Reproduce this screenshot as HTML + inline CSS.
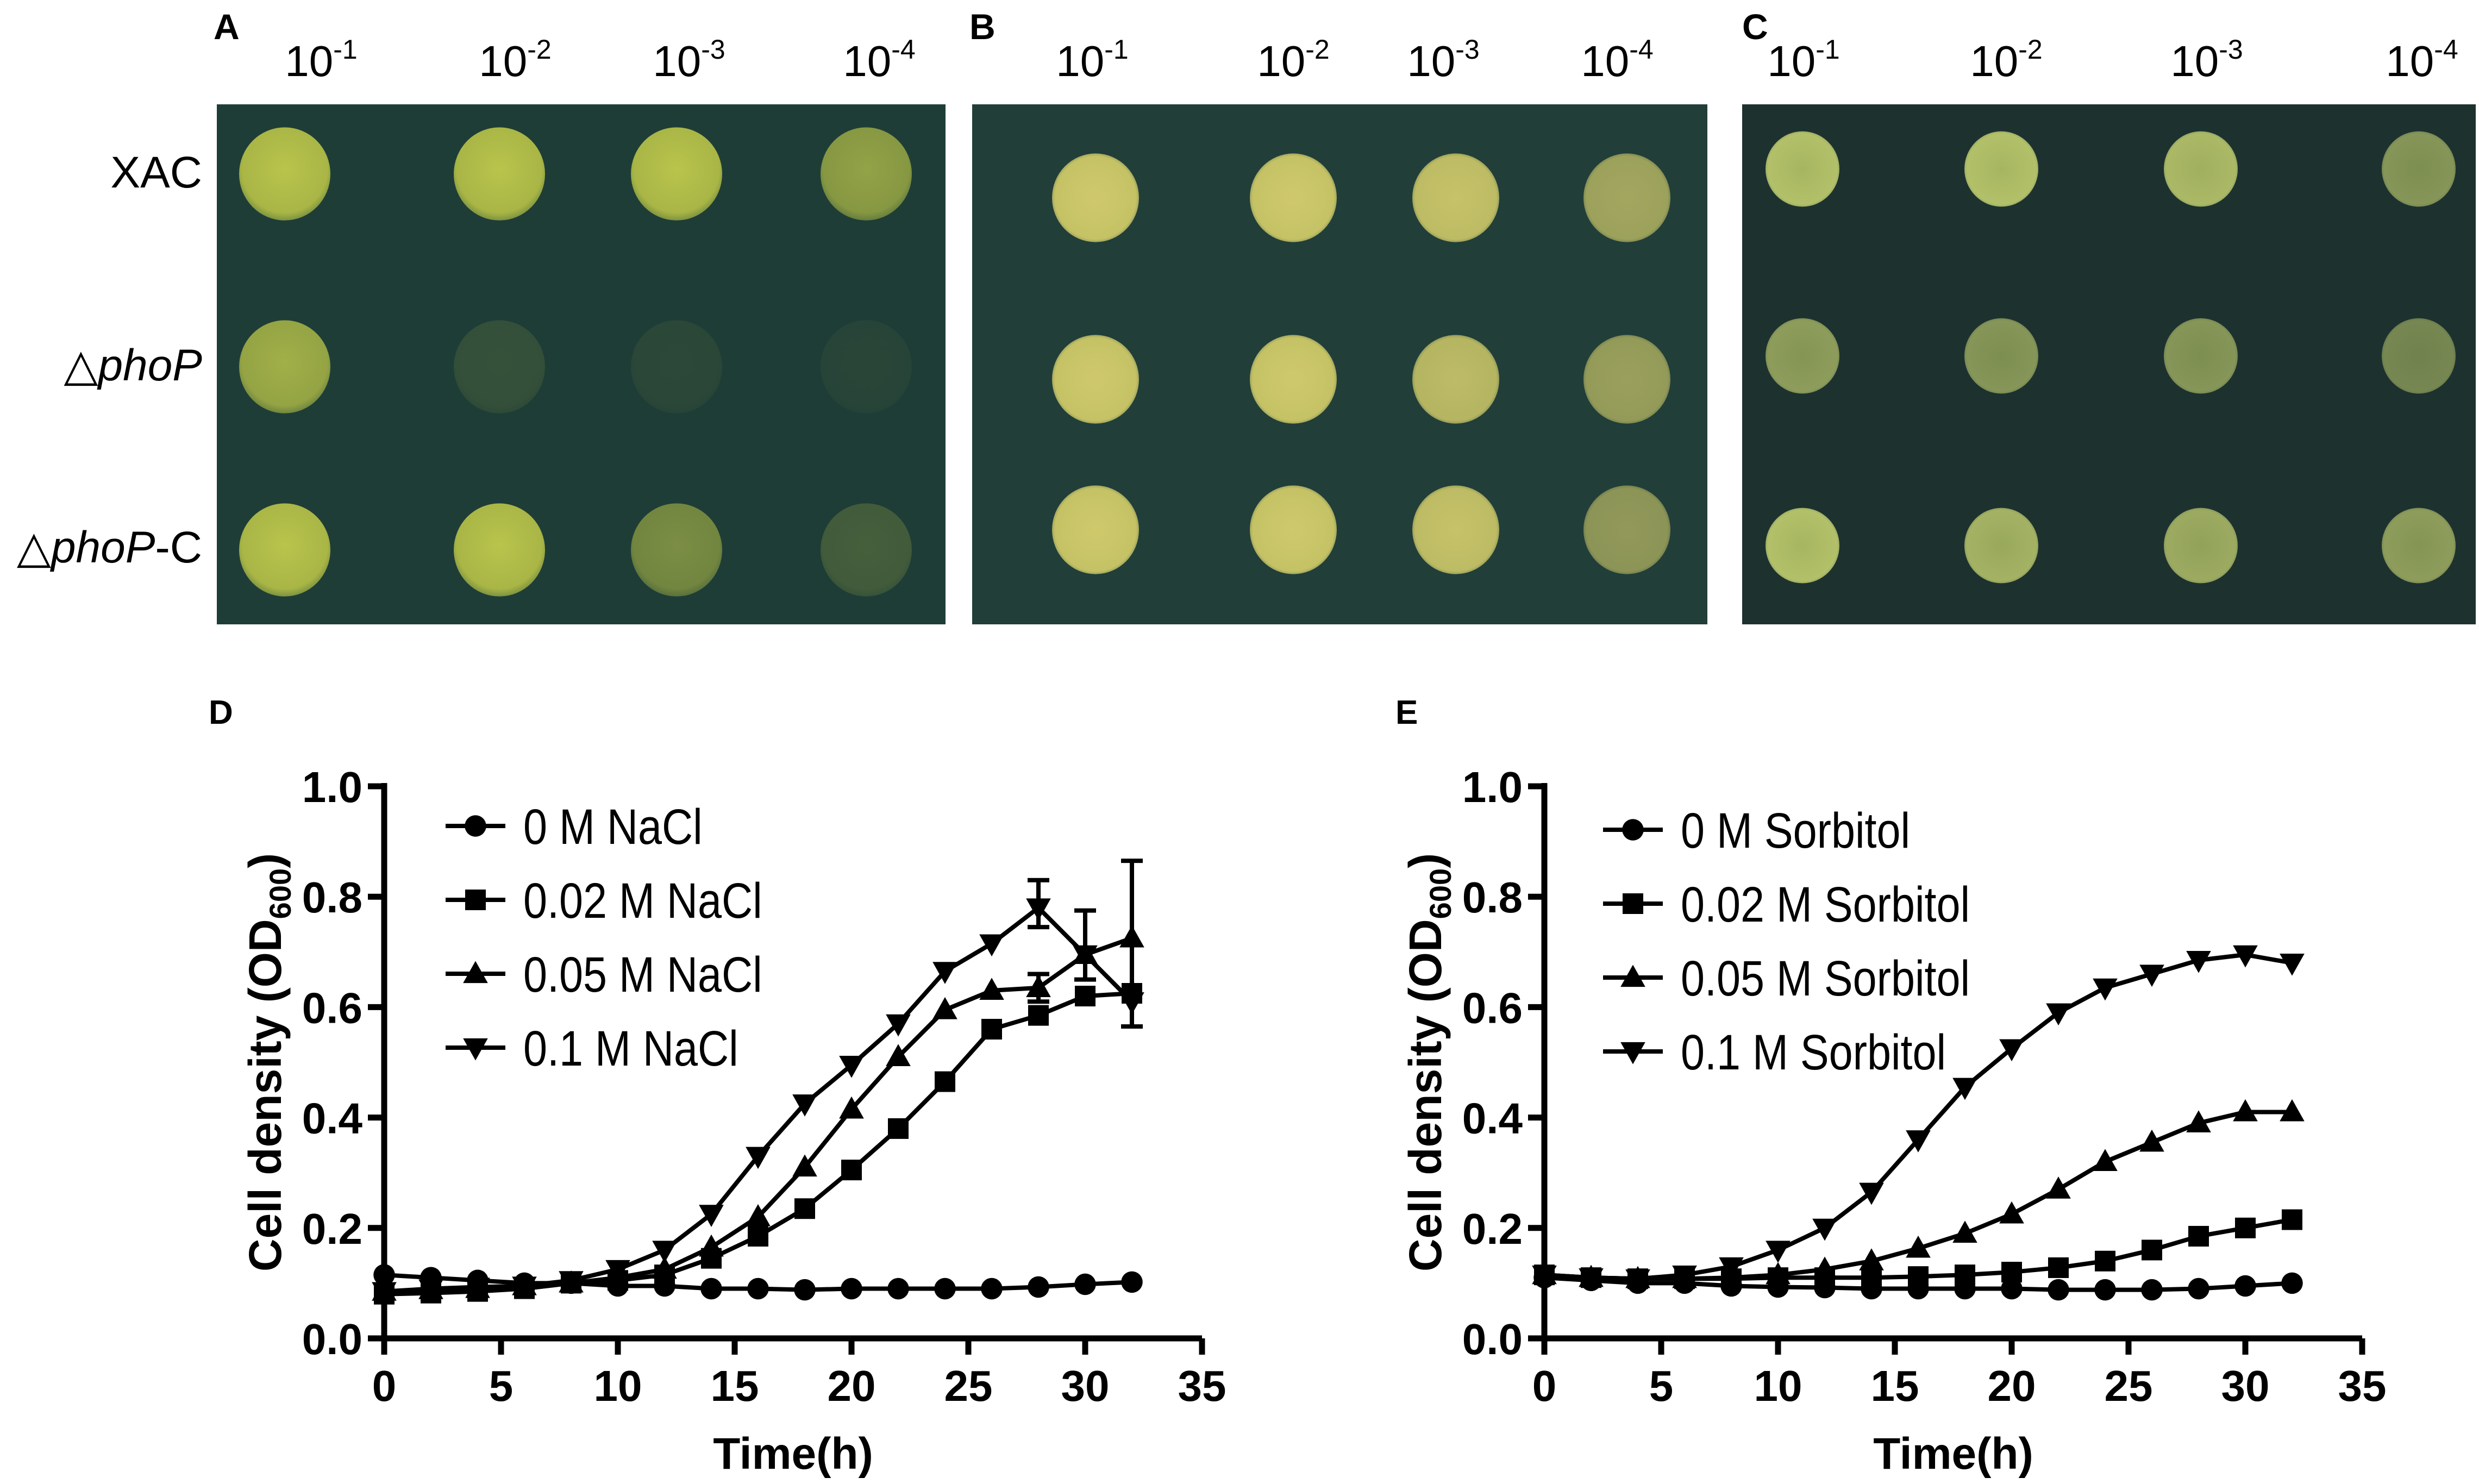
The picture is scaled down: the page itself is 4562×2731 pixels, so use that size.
<!DOCTYPE html>
<html><head><meta charset="utf-8"><style>
html,body{margin:0;padding:0;background:#fff}
svg{display:block}
text{font-family:"Liberation Sans",Arial,sans-serif}
</style></head><body>
<svg id="fig" width="4562" height="2731" viewBox="0 0 4562 2731" xmlns="http://www.w3.org/2000/svg">
<defs>
<radialGradient id="gA" cx="50%" cy="45%" r="55%"><stop offset="0" stop-color="#b9c44c"/><stop offset="0.85" stop-color="#a9b646"/><stop offset="1" stop-color="#7f9340"/></radialGradient>
<radialGradient id="gB" cx="50%" cy="50%" r="55%"><stop offset="0" stop-color="#cfc96c"/><stop offset="0.85" stop-color="#c5c266"/><stop offset="1" stop-color="#6f7d4f"/></radialGradient>
<radialGradient id="gC" cx="50%" cy="50%" r="55%"><stop offset="0" stop-color="#a6b660"/><stop offset="0.85" stop-color="#b3c06a"/><stop offset="1" stop-color="#7d9157"/></radialGradient>
</defs>
<g id="photos"></g>
<g id="chartD"></g>
<g id="chartE"></g>
</svg>
<script>
const NS="http://www.w3.org/2000/svg";
// ---- Chart data ----
const times=[0,2,4,6,8,10,12,14,16,18,20,22,24,26,28,30,32];
const xTicks=[0,5,10,15,20,25,30,35];
const yTicks=[0.0,0.2,0.4,0.6,0.8,1.0];
const yTickLabels=["0.0","0.2","0.4","0.6","0.8","1.0"];
const nacl0=[0.115,0.11,0.105,0.1,0.1,0.095,0.095,0.09,0.09,0.088,0.09,0.09,0.09,0.09,0.093,0.098,0.102];
const nacl002=[0.08,0.082,0.085,0.09,0.1,0.105,0.115,0.145,0.185,0.235,0.305,0.38,0.465,0.56,0.585,0.62,0.625];
const nacl005=[0.085,0.088,0.09,0.095,0.1,0.11,0.125,0.165,0.22,0.31,0.415,0.51,0.595,0.63,0.635,0.695,0.725];
const nacl01=[0.085,0.09,0.093,0.095,0.105,0.125,0.16,0.225,0.33,0.425,0.495,0.57,0.665,0.715,0.78,0.695,0.61];
const naclErrT=[28,28,30,32];
const naclErrLo=[0.745,0.61,0.65,0.565];
const naclErrHi=[0.83,0.66,0.775,0.865];
const sorb0=[0.11,0.105,0.1,0.1,0.095,0.093,0.092,0.09,0.09,0.09,0.09,0.088,0.088,0.088,0.09,0.095,0.1];
const sorb002=[0.115,0.11,0.108,0.108,0.108,0.11,0.11,0.11,0.112,0.115,0.12,0.128,0.14,0.16,0.185,0.2,0.215];
const sorb005=[0.115,0.11,0.108,0.108,0.11,0.115,0.125,0.14,0.163,0.19,0.225,0.27,0.32,0.355,0.39,0.41,0.41];
const sorb01=[0.115,0.11,0.108,0.115,0.13,0.16,0.2,0.265,0.36,0.455,0.525,0.59,0.635,0.66,0.685,0.695,0.68];
const naclLabels=["0 M NaCl","0.02 M NaCl","0.05 M NaCl","0.1 M NaCl"];
const sorbLabels=["0 M Sorbitol","0.02 M Sorbitol","0.05 M Sorbitol","0.1 M Sorbitol"];
const markerTypes=["circle","square","up","down"];

function el(tag,attrs,parent){const e=document.createElementNS(NS,tag);for(const k in attrs)e.setAttribute(k,attrs[k]);if(parent)parent.appendChild(e);return e;}

function marker(g,type,cx,cy,s){
  let m;
  if(type==="circle") m=el("circle",{cx:cx,cy:cy,r:s*0.52,fill:"#000"},g);
  else if(type==="square") m=el("rect",{x:cx-s*0.5,y:cy-s*0.5,width:s,height:s,fill:"#000"},g);
  else if(type==="up") m=el("polygon",{points:`${cx},${cy-s*0.62} ${cx-s*0.6},${cy+s*0.45} ${cx+s*0.6},${cy+s*0.45}`,fill:"#000"},g);
  else m=el("polygon",{points:`${cx},${cy+s*0.62} ${cx-s*0.6},${cy-s*0.45} ${cx+s*0.6},${cy-s*0.45}`,fill:"#000"},g);
  return m;
}

function chart(gid,x0,x35,y0,y1,series,labels,legX,legY,legStep,errT,errLo,errHi,letter,letterX){
  const g=document.getElementById(gid);
  const X=t=>x0+(x35-x0)*t/35, Y=v=>y0-(y0-y1)*v;
  const lt=el("text",{x:letterX,y:1332,"font-size":62,"font-weight":"bold"},g);lt.textContent=letter;
  
  
  const ax=el("path",{d:`M${x0} ${y1-6}V${y0}H${X(35)}`,stroke:"#000","stroke-width":11,fill:"none"},g);
  
  
  yTicks.forEach((v,i)=>{
    el("line",{x1:x0-30,x2:x0,y1:Y(v),y2:Y(v),stroke:"#000","stroke-width":11},g);
    const t=el("text",{x:x0-40,y:Y(v)+29,"font-size":80,"font-weight":"bold","text-anchor":"end"},g);
    t.textContent=yTickLabels[i];
    
    
  });
  xTicks.forEach(v=>{
    el("line",{x1:X(v),x2:X(v),y1:y0,y2:y0+30,stroke:"#000","stroke-width":11},g);
    const t=el("text",{x:X(v),y:y0+115,"font-size":80,"font-weight":"bold","text-anchor":"middle"},g);
    t.textContent=String(v);
    
    
  });
  const xt=el("text",{x:(x0+X(35))/2,y:y0+240,"font-size":82,"font-weight":"bold","text-anchor":"middle"},g);
  xt.textContent="Time(h)";
  
  
  const yt=el("text",{transform:`translate(${x0-190},${(y0+y1)/2}) rotate(-90)`,"font-size":84,"font-weight":"bold","text-anchor":"middle"},g);
  yt.innerHTML='Cell density (OD<tspan font-size="56" dy="18">600</tspan><tspan dy="-18">)</tspan>';
  
  
  for(let i=0;i<errT.length;i++){
    const eb=el("path",{d:`M${X(errT[i])} ${Y(errLo[i])}V${Y(errHi[i])}M${X(errT[i])-20} ${Y(errLo[i])}h40M${X(errT[i])-20} ${Y(errHi[i])}h40`,stroke:"#000","stroke-width":8,fill:"none"},g);
    
    
  }
  series.forEach((vals,si)=>{
    const sg=el("g",{},g);
    
    
    el("polyline",{points:vals.map((v,i)=>X(times[i])+","+Y(v)).join(" "),stroke:"#000","stroke-width":8,fill:"none","stroke-linejoin":"round"},sg);
    vals.forEach((v,i)=>{const m=marker(sg,markerTypes[si],X(times[i]),Y(v),38);
      
      });
    const lg=el("g",{},g);
    
    
    const ly=legY+legStep*si;
    el("line",{x1:legX-55,x2:legX+55,y1:ly,y2:ly,stroke:"#000","stroke-width":8},lg);
    marker(lg,markerTypes[si],legX,ly,38);
    const tx=el("text",{transform:`translate(${legX+88},${ly+33}) scale(0.86,1)`,"font-size":92},lg);tx.textContent=labels[si];
  });
}
chart("chartD",707,2212,2463,1447,[nacl0,nacl002,nacl005,nacl01],naclLabels,875,1520,136,naclErrT,naclErrLo,naclErrHi,"D",384);
chart("chartE",2842,4347,2463,1447,[sorb0,sorb002,sorb005,sorb01],sorbLabels,3005,1527,136,[],[],[],"E",2568);

// ---- Photos ----
const P=document.getElementById("photos");
const panels=[
 {x:399,w:1341,bg:"#1f3d37",grad:"gA",cols:[524,919,1245,1594],labs:[591,948,1268,1618],rows:[320,675,1012],r:84,letter:"A",lx:393},
 {x:1789,w:1353,bg:"#213e39",grad:"gB",cols:[2016,2380,2679,2994],labs:[2010,2380,2656,2976],rows:[364,698,975],r:80,letter:"B",lx:1784},
 {x:3206,w:1350,bg:"#1d322f",grad:"gC",cols:[3317,3683,4050,4451],labs:[3319,3692,4061,4457],rows:[311,655,1004],r:68,letter:"C",lx:3206}
];
const spotOpacity=[[1,1,1,0.75],[0.85,0.15,0.08,0.06],[1,1,0.6,0.25]];
const spotOpB=[[1,1,0.95,0.75],[1,1,0.9,0.7],[1,1,0.95,0.65]];
const spotOpC=[[1,1,0.95,0.7],[0.75,0.7,0.7,0.6],[1,0.9,0.85,0.75]];
const ops=[spotOpacity,spotOpB,spotOpC];
panels.forEach((p,pi)=>{
  const r=el("rect",{x:p.x,y:192,width:p.w,height:957,fill:p.bg},P);
  
  
  const lt=el("text",{x:p.lx,y:72,"font-size":66,"font-weight":"bold"},P);lt.textContent=p.letter;
  
  
  const dil=["1","2","3","4"];
  p.cols.forEach((cx,ci)=>{
    const t=el("text",{x:p.labs[ci],y:140,"font-size":80,"text-anchor":"middle"},P);
    t.innerHTML='10<tspan font-size="50" dy="-32">-'+dil[ci]+'</tspan>';
    
    
    p.rows.forEach((cy,ri)=>{
      const c=el("ellipse",{cx:cx,cy:cy,rx:p.r,ry:p.r*1.02,fill:"url(#"+p.grad+")",opacity:ops[pi][ri][ci]},P);
      
      
    });
  });
});
const rowNames=["XAC",'△<tspan font-style="italic">phoP</tspan>','△<tspan font-style="italic">phoP</tspan>-C'];
[345,700,1035].forEach((y,i)=>{
  const t=el("text",{x:372,y:y,"font-size":82,"text-anchor":"end"},P);
  t.innerHTML=rowNames[i];
  
  
});
</script>
</body></html>
